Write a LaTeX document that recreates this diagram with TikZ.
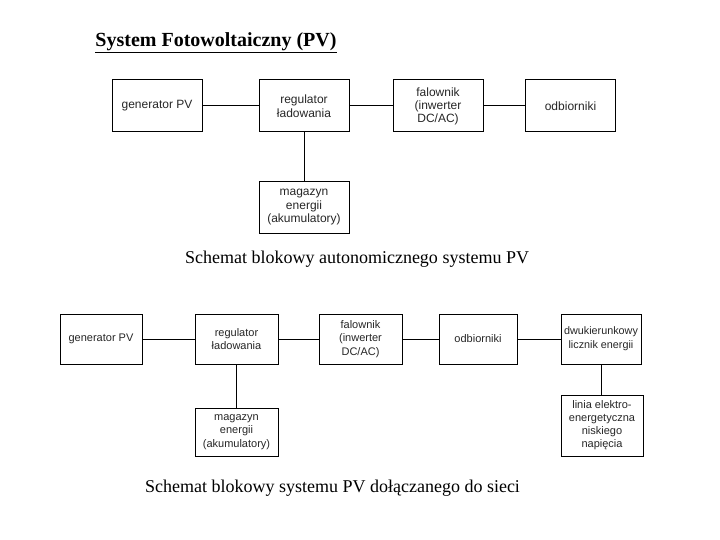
\documentclass[tikz,border=0pt]{standalone}
\usepackage{fontspec}
\setmainfont{Liberation Serif}
\newfontfamily\boxfont{Liberation Sans}
\begin{document}
\begin{tikzpicture}[x=1pt,y=-1pt,
  blk/.style={draw=black, line width=1pt, rectangle, inner sep=0pt, align=center,
    font=\boxfont\fontsize{11}{13.5}\selectfont, text=black!85},
  blkbig/.style={blk, font=\boxfont\fontsize{12}{14}\selectfont},
  conn/.style={draw=black, line width=1pt},
  caption/.style={font=\fontsize{18}{20}\selectfont, inner sep=0pt}]
\useasboundingbox (0,0) rectangle (720,540);
% title
\node[font=\bfseries\fontsize{20}{22}\selectfont, inner sep=0pt] (title) at (216,43) {\underline{System Fotowoltaiczny (PV)}};
% top diagram
\node[blkbig, minimum width=90, minimum height=52] (gen1) at (157,106) {generator PV};
\node[blkbig, minimum width=90, minimum height=52] (reg1) at (304,106) {regulator\\ładowania};
\node[blkbig, minimum width=90, minimum height=52, font=\boxfont\fontsize{12}{13}\selectfont] (fal1) at (438,106) {falownik\\(inwerter\\DC/AC)};
\node[blkbig, minimum width=90, minimum height=52] (odb1) at (570.5,106) {odbiorniki};
\node[blkbig, minimum width=90, minimum height=51, font=\boxfont\fontsize{12}{13.5}\selectfont] (mag1) at (304,207.5) {magazyn\\energii\\(akumulatory)};
\draw[conn] (gen1) -- (reg1);
\draw[conn] (reg1) -- (fal1);
\draw[conn] (fal1) -- (odb1);
\draw[conn] (reg1) -- (mag1);
\node[caption] (cap1) at (357,259) {Schemat blokowy autonomicznego systemu PV};
% bottom diagram
\node[blk, minimum width=82, minimum height=50] (gen2) at (101,339) {generator PV};
\node[blk, minimum width=83, minimum height=50] (reg2) at (236.5,339) {regulator\\ładowania};
\node[blk, minimum width=83, minimum height=50] (fal2) at (360.5,339) {falownik\\(inwerter\\DC/AC)};
\node[blk, minimum width=78, minimum height=50] (odb2) at (478,339) {odbiorniki};
\node[blk, minimum width=80, minimum height=50, font=\boxfont\fontsize{10.8}{14}\selectfont] (dwu) at (601,339) {dwukierunkowy\\licznik energii};
\node[blk, minimum width=83, minimum height=48] (mag2) at (236.5,432) {magazyn\\energii\\(akumulatory)};
\node[blk, minimum width=82, minimum height=61, font=\boxfont\fontsize{11}{13}\selectfont] (lin) at (602,425.5) {linia elektro-\\energetyczna\\niskiego\\napięcia};
\draw[conn] (gen2) -- (reg2);
\draw[conn] (reg2) -- (fal2);
\draw[conn] (fal2) -- (odb2);
\draw[conn] (odb2) -- (dwu);
\draw[conn] (reg2) -- (mag2);
\draw[conn] (dwu.south) -- (dwu.south |- lin.north);
\node[caption] (cap2) at (332.5,488) {Schemat blokowy systemu PV dołączanego do sieci};
\end{tikzpicture}
\end{document}
